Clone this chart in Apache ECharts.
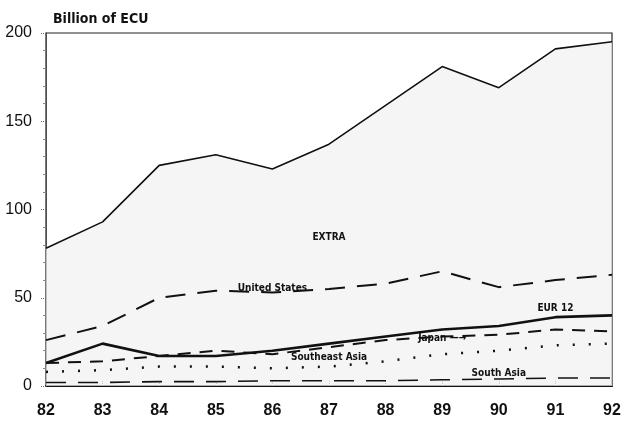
<!DOCTYPE html>
<html>
<head>
<meta charset="utf-8">
<script src="https://cdn.jsdelivr.net/npm/echarts@6/dist/echarts.min.js"></script>
<style>
  html, body { margin: 0; padding: 0; background: #fff; }
  #chart { width: 624px; height: 425px; }
</style>
</head>
<body>
<div id="chart"></div>
<script>
// years on the x axis
const years = ['82', '83', '84', '85', '86', '87', '88', '89', '90', '91', '92'];

// series values, billion ECU
const extra = [78, 93, 125, 131, 123, 137, 159, 181, 169, 191, 195];
const unitedStates = [26, 34, 50, 54, 53, 55, 58, 65, 56, 60, 63];
const eur12 = [13, 24, 17, 17, 20, 24, 28, 32, 34, 39, 40];
const japan = [13, 14, 17, 20, 18, 22, 26, 28, 29, 32, 31];
const southeastAsia = [8, 9, 11, 11, 10, 11, 14, 18, 20, 23, 24];
const southAsia = [2, 2, 2.5, 2.5, 3, 3, 3, 3.5, 4, 4.5, 4.5];

const yTicks = [0, 50, 100, 150, 200];

const font = '"Liberation Sans", Arial, sans-serif';
const narrow = '"DejaVu Sans Condensed", "Liberation Sans", sans-serif';

const chart = echarts.init(document.getElementById('chart'));

function lab(text, xi, y) {
  return {
    coord: [xi, y],
    symbol: 'circle',
    symbolSize: 0,
    label: {
      show: true,
      formatter: text,
      position: 'inside',
      color: '#111',
      fontFamily: narrow,
      fontWeight: 'bold',
      fontSize: 10
    }
  };
}

function line(name, data, width, dash, labels) {
  return {
    name: name,
    type: 'line',
    data: data,
    symbol: 'none',
    silent: true,
    lineStyle: { color: '#111', width: width, type: dash },
    markPoint: labels ? { data: labels, animation: false } : undefined,
    z: 3
  };
}

const option = {
  animation: false,
  backgroundColor: '#fff',
  title: {
    text: 'Billion of ECU',
    left: 48,
    top: 7,
    textStyle: { fontFamily: narrow, fontSize: 14, fontWeight: 'bold', color: '#111' }
  },
  grid: { left: 46, right: 12, top: 33, bottom: 39, show: true, borderColor: '#222', borderWidth: 1.2 },
  xAxis: {
    type: 'category',
    data: years,
    boundaryGap: false,
    axisLine: { lineStyle: { color: '#111', width: 2 } },
    axisTick: { show: true, length: -5, lineStyle: { color: '#666', type: 'dotted' } },
    axisLabel: { color: '#111', fontFamily: font, fontSize: 16, fontWeight: 'bold', margin: 17 },
    splitLine: { show: false }
  },
  yAxis: {
    type: 'value',
    min: yTicks[0],
    max: yTicks[yTicks.length - 1],
    interval: 50,
    axisLine: { show: true, lineStyle: { color: '#444', width: 1, type: 'dotted' } },
    axisTick: { show: true, length: 5, lineStyle: { color: '#666', type: 'dotted' } },
    minorTick: { show: true, splitNumber: 5, length: 3, lineStyle: { color: '#888' } },
    axisLabel: { color: '#111', fontFamily: font, fontSize: 16, margin: 14 },
    splitLine: { show: false }
  },
  series: [
    Object.assign(line('EXTRA', extra, 1.6, 'solid', [lab('EXTRA', 5.33, 84)]), {
      areaStyle: { color: '#f1f1f1' }, z: 2
    }),
    line('United States', unitedStates, 2, [20, 12], [lab('United States', 3.8, 55.5)]),
    line('EUR 12', eur12, 2.6, 'solid', [lab('EUR 12', 9.43, 44)]),
    line('Japan', japan, 2, [13, 9], [lab('Japan \u2014\u2192', 7.2, 27)]),
    line('Southeast Asia', southeastAsia, 2.5, [2, 14], [lab('Southeast Asia', 5.42, 16)]),
    line('South Asia', southAsia, 1.6, [20, 12], [lab('South Asia', 8.28, 7)])
  ]
};

chart.setOption(option);
</script>
</body>
</html>
